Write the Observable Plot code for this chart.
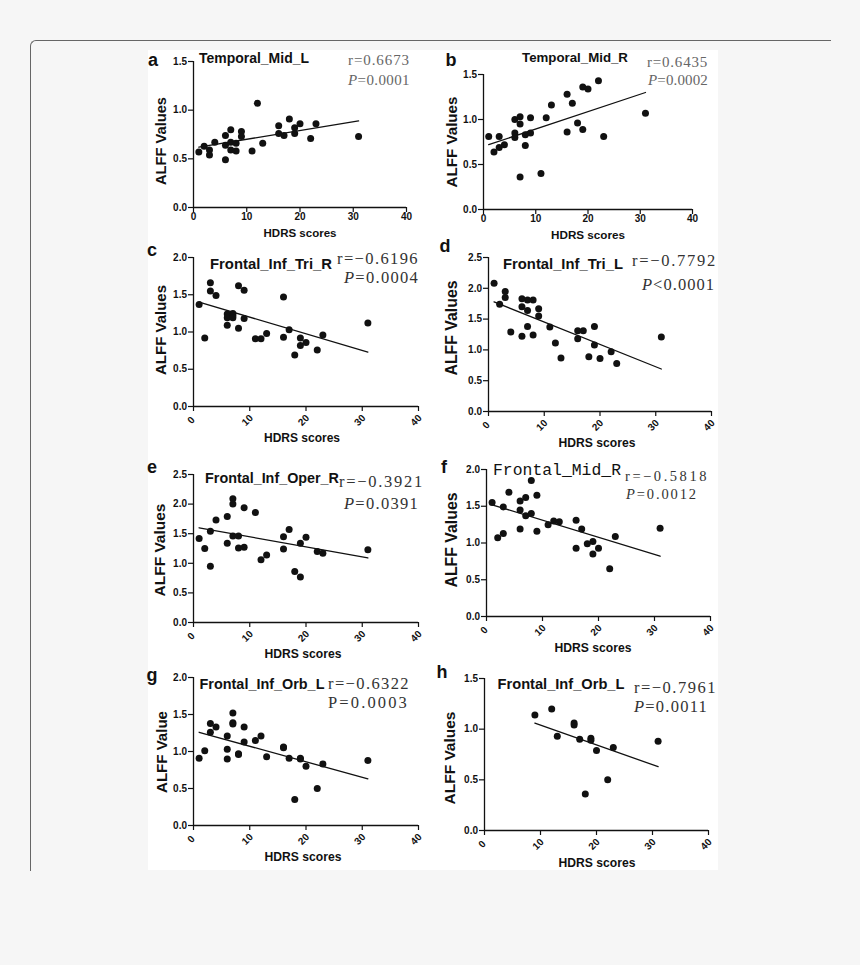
<!DOCTYPE html>
<html><head><meta charset="utf-8">
<script src="https://cdn.jsdelivr.net/npm/d3@7"></script>
<script src="https://cdn.jsdelivr.net/npm/@observablehq/plot@0.6"></script>
<style>
html,body{margin:0;padding:0;background:#f6f6f6;}
#page{position:relative;width:860px;height:965px;overflow:hidden;font-family:"Liberation Sans",Arial,sans-serif;}
#card{position:absolute;left:30px;top:40px;width:800px;height:830px;border-top:1px solid #666;border-left:1px solid #666;border-top-left-radius:6px;}
#fig{position:absolute;left:148px;top:50px;width:570px;height:820px;background:#fff;}
.t{position:absolute;white-space:nowrap;line-height:1;color:#111;z-index:5;}
.sans{font-family:"Liberation Sans",Arial,sans-serif;font-weight:bold;}
.serif{font-family:"Liberation Serif","Times New Roman",serif;}
.mono{font-family:"Liberation Mono","DejaVu Sans Mono",monospace;}
svg{z-index:2;}
</style></head>
<body><div id="page"><div id="card"></div><div id="fig"></div></div>
<script>
// ---- data ----
const xTicks = [0, 10, 20, 30, 40];
const hdrs28 = [1,2,3,3,4,6,6,6,7,7,7,8,8,9,9,11,12,13,16,16,17,18,19,19,20,22,23,31];
const hdrsE = [1,2,3,3,4,6,6,7,7,7,8,8,9,9,11,12,13,16,16,17,18,19,19,20,22,23,31];
const hdrsF = [1,2,3,3,4,6,6,6,7,7,8,8,9,9,11,12,13,16,16,17,18,19,19,20,22,23,31];
const hdrsH = [9,12,13,16,16,17,18,19,19,20,22,23,31];

const alffA = [0.57,0.63,0.59,0.54,0.67,0.74,0.64,0.49,0.80,0.67,0.59,0.66,0.58,0.78,0.73,0.58,1.07,0.66,0.84,0.76,0.74,0.91,0.82,0.76,0.86,0.71,0.86,0.73];
const alffB = [0.81,0.64,0.81,0.69,0.72,1.00,0.85,0.80,1.03,0.95,0.36,0.83,0.71,1.02,0.85,0.40,1.02,1.16,1.28,0.86,1.18,0.96,1.36,0.89,1.34,1.43,0.81,1.07];
const alffC = [1.37,0.92,1.66,1.55,1.49,1.24,1.19,1.09,1.25,1.22,1.19,1.62,1.05,1.56,1.18,0.91,0.91,0.98,1.47,0.93,1.03,0.69,0.92,0.82,0.86,0.76,0.96,1.12];
const alffD = [2.08,1.74,1.95,1.85,1.29,1.83,1.70,1.22,1.81,1.64,1.38,1.81,1.24,1.67,1.55,1.37,1.11,0.87,1.31,1.18,1.31,0.89,1.38,1.08,0.86,0.97,0.78,1.21];
const alffE = [1.42,1.25,1.54,0.95,1.73,1.79,1.34,2.09,2.00,1.46,1.46,1.26,1.94,1.27,1.86,1.06,1.14,1.45,1.24,1.57,0.86,1.34,0.77,1.44,1.20,1.17,1.23];
const alffF = [1.55,1.07,1.49,1.13,1.69,1.57,1.45,1.19,1.62,1.37,1.85,1.40,1.65,1.16,1.25,1.30,1.29,1.31,0.93,1.19,0.99,1.02,0.85,0.93,0.65,1.09,1.20];
const alffG = [0.91,1.01,1.38,1.26,1.33,1.21,1.03,0.90,1.52,1.39,1.37,0.97,0.96,1.33,1.13,1.15,1.21,0.93,1.06,1.05,0.91,0.35,0.91,0.90,0.80,0.50,0.83,0.88];
const alffH = [1.14,1.20,0.93,1.06,1.04,0.90,0.36,0.91,0.89,0.79,0.50,0.82,0.88];

// fitted regression lines (end points)
const fitA = [[1,0.62],[31,0.89]];
const fitB = [[1,0.72],[31,1.30]];
const fitC = [[1,1.40],[31,0.73]];
const fitD = [[1,1.78],[31,0.69]];
const fitE = [[1,1.60],[31,1.09]];
const fitF = [[1,1.52],[31,0.82]];
const fitG = [[1,1.26],[31,0.63]];
const fitH = [[9,1.06],[31,0.63]];

const letters = ["a","b","c","d","e","f","g","h"];
const regions = ["Temporal_Mid_L","Temporal_Mid_R","Frontal_Inf_Tri_R","Frontal_Inf_Tri_L","Frontal_Inf_Oper_R","Frontal_Mid_R","Frontal_Inf_Orb_L","Frontal_Inf_Orb_L"];
const rTexts = ["r=0.6673","r=0.6435","r=\u22120.6196","r=\u22120.7792","r=\u22120.3921","r=\u22120.5818","r=\u22120.6322","r=\u22120.7961"];
const pTexts = ["<i>P</i>=0.0001","<i>P</i>=0.0002","<i>P</i>=0.0004","<i>P</i>&lt;0.0001","<i>P</i>=0.0391","<i>P</i>=0.0012","P=0.0003","<i>P</i>=0.0011"];
const yLabels = ["ALFF Values","ALFF Values","ALFF Values","ALFF Values","ALFF Values","ALFF Values","ALFF Value","ALFF Values"];
const xLabel = "HDRS scores";
const yMax = [1.5,1.5,2.0,2.5,2.5,2.0,2.0,1.5];
const yTicks = [[0,0.5,1,1.5],[0,0.5,1,1.5],[0,0.5,1,1.5,2],[0,0.5,1,1.5,2,2.5],[0,0.5,1,1.5,2,2.5],[0,0.5,1,1.5,2],[0,0.5,1,1.5,2],[0,0.5,1,1.5]];
const xsAll = [hdrs28,hdrs28,hdrs28,hdrs28,hdrsE,hdrsF,hdrs28,hdrsH];
const ysAll = [alffA,alffB,alffC,alffD,alffE,alffF,alffG,alffH];
const fits = [fitA,fitB,fitC,fitD,fitE,fitF,fitG,fitH];

// ---- layout (pixel geometry of each panel) ----
const geo = [
  {x0:193,x40:406,y0:207,yTop:61, rot:false},
  {x0:483,x40:692,y0:209,yTop:74, rot:false},
  {x0:193,x40:418,y0:406,yTop:257,rot:true},
  {x0:488,x40:711,y0:411,yTop:257,rot:true},
  {x0:193,x40:418,y0:622,yTop:474,rot:true},
  {x0:486,x40:710,y0:616,yTop:469,rot:true},
  {x0:193,x40:418,y0:825,yTop:677,rot:true},
  {x0:484,x40:708,y0:830,yTop:678,rot:true}
];
const letterPos = [[153,60],[451,60],[152,250],[445,246],[152,467],[444,467],[152,675],[442,672]];
const titlePos = [[254,59,110],[575,58,106],[271,264,122],[563,264,120],[272,478,134],[557,471,128],[262,684,125],[561,684,127]];
const rPos = [[348,60,62],[647,62,61],[337,259,82],[632,261,85],[339,482,85],[625,476,84],[328,684,82],[634,688,83]];
const pPos = [[348,80,62],[648,80,60],[344,278,75],[642,285,73],[344,504,75],[626,494,72],[328,703,81],[634,707,74]];
const rSize = [15,15,16.5,16.5,16.5,14.5,16.5,16.5];
const yLabPos = [[161,141,88],[452,142,91],[160,330,90],[452,328,95],[160,550,93],[452,540,95],[162,752,82],[450,758,93]];
const xLabPos = [[300,234,73],[588,235,74],[302,438,76],[597,443,77],[303,654,77],[593,648,77],[303,857,77],[597,863,77]];

const page = document.getElementById("page");

function panel(i) {
  const g = geo[i];
  const mL = 40, mT = 10, mR = 6, mB = 26;
  const w = (g.x40 - g.x0) + mL + mR;
  const h = (g.y0 - g.yTop) + mT + mB;
  const data = xsAll[i].map((x, k) => ({x, y: ysAll[i][k]}));
  const fit = fits[i].map(([x, y]) => ({x, y}));
  const svg = Plot.plot({
    width: w, height: h,
    marginLeft: mL, marginTop: mT, marginRight: mR, marginBottom: mB,
    style: {fontFamily: "Liberation Sans, Arial, sans-serif", fontSize: "10px", fontWeight: "bold", color: "#111", background: "transparent", overflow: "visible"},
    x: {domain: [0, 40]},
    y: {domain: [0, yMax[i]]},
    marks: [
      Plot.axisX({ticks: xTicks, tickSize: 5, tickFormat: () => "", label: null, strokeWidth: 1.2}),
      Plot.text(xTicks, {x: d => d, frameAnchor: "bottom", dy: g.rot ? 16 : 12, rotate: g.rot ? -45 : 0, text: d => String(d), textAnchor: "middle", fill: "#111", fontWeight: "bold", fontSize: 10}),
      Plot.axisY({ticks: yTicks[i], tickSize: 5, tickPadding: 1.5, label: null, tickFormat: d3.format(".1f"), strokeWidth: 1.2}),
      Plot.ruleY([0], {stroke: "#111", strokeWidth: 1.3}),
      Plot.ruleX([0], {stroke: "#111", strokeWidth: 1.3}),
      Plot.line(fit, {x: "x", y: "y", stroke: "#111", strokeWidth: 1.3}),
      Plot.dot(data, {x: "x", y: "y", r: 3.5, fill: "#111", stroke: "none"})
    ]
  });
  svg.style.position = "absolute";
  svg.style.left = (g.x0 - mL) + "px";
  svg.style.top = (g.yTop - mT) + "px";
  page.appendChild(svg);
}

function addText(html, cls, x, y, opts) {
  const el = document.createElement("div");
  el.className = "t " + cls;
  el.innerHTML = html;
  el.style.fontSize = (opts.size || 14) + "px";
  if (opts.color) el.style.color = opts.color;
  page.appendChild(el);
  if (opts.width) {
    const w0 = el.getBoundingClientRect().width;
    if (opts.fit === "size") {
      el.style.fontSize = (opts.size * opts.width / w0).toFixed(2) + "px";
    } else {
      const n = el.textContent.length;
      el.style.letterSpacing = ((opts.width - w0) / n).toFixed(2) + "px";
    }
  }
  el.style.left = x + "px";
  el.style.top = y + "px";
  const tx = opts.anchor === "start" ? "0" : "-50%";
  el.style.transform = `translate(${tx},-50%)` + (opts.rotate ? " rotate(-90deg)" : "");
  return el;
}

for (let i = 0; i < 8; i++) panel(i);
for (let i = 0; i < 8; i++) {
  addText(letters[i], "sans", letterPos[i][0], letterPos[i][1], {size: 18});
  const mono = i === 5;
  addText(regions[i], mono ? "mono" : "sans", titlePos[i][0], titlePos[i][1], {size: mono ? 16 : 13, width: titlePos[i][2], fit: "size"});
  const col = i < 2 ? "#666" : "#333";
  addText(rTexts[i], "serif", rPos[i][0], rPos[i][1], {size: rSize[i], width: rPos[i][2], anchor: "start", color: col});
  addText(pTexts[i], "serif", pPos[i][0], pPos[i][1], {size: rSize[i], width: pPos[i][2], anchor: "start", color: col});
  addText(yLabels[i], "sans", yLabPos[i][0], yLabPos[i][1], {size: 14, width: yLabPos[i][2], fit: "size", rotate: true});
  addText(xLabel, "sans", xLabPos[i][0], xLabPos[i][1], {size: 12, width: xLabPos[i][2], fit: "size"});
}
</script></body></html>
